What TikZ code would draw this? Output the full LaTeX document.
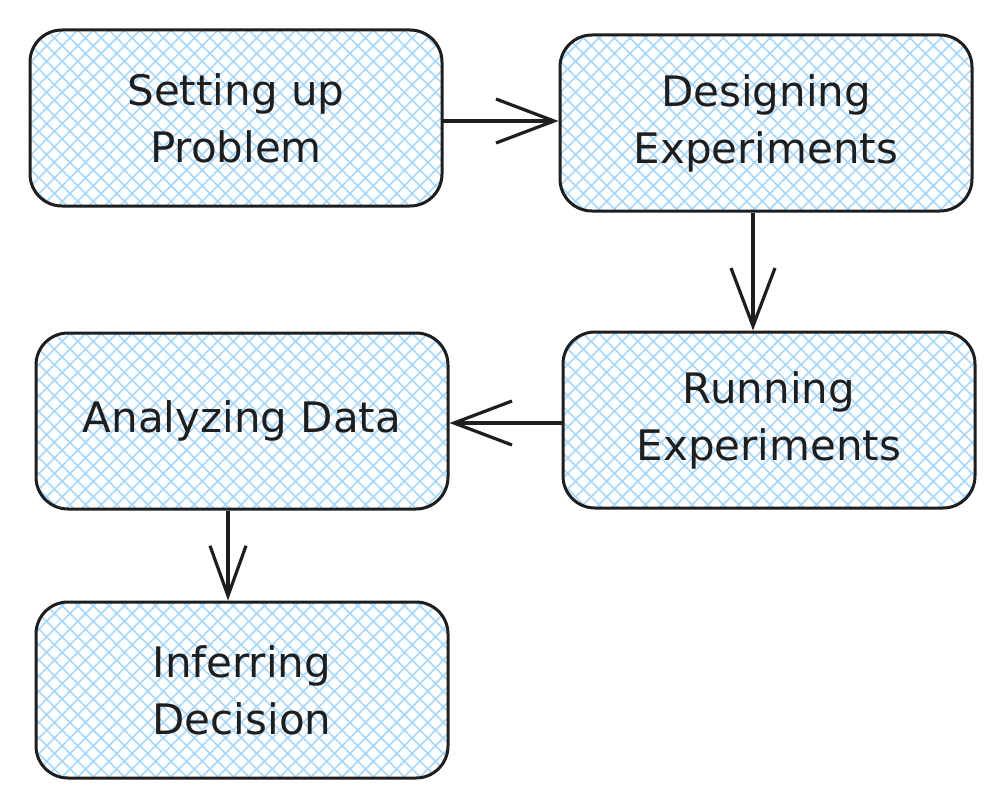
\documentclass[tikz,border=0pt]{standalone}
\usepackage{fontspec}
\setmainfont{DejaVu Sans}
\usetikzlibrary{patterns.meta,arrows.meta}
\definecolor{hatchblue}{HTML}{A5D8FF}
\definecolor{ink}{HTML}{1E1E1E}
\begin{document}
\begin{tikzpicture}[x=1pt,y=-1pt,
  stagebox/.style={draw=ink, line width=3pt, rounded corners=32pt,
    minimum width=412pt, minimum height=176pt, inner sep=0pt,
    align=center, text=ink, font=\fontsize{42}{57}\selectfont,
    pattern={Hatch[angle=45,distance=11pt,line width=1.6pt]},
    pattern color=hatchblue},
  flow/.style={draw=ink, line width=3.2pt,
    -{Straight Barb[length=58pt,width=44pt,line width=3.2pt]}},
  flowsmall/.style={draw=ink, line width=3.2pt,
    -{Straight Barb[length=50pt,width=36pt,line width=3.2pt]}}]
\useasboundingbox[fill=white] (0,0) rectangle (1005,808);
\node[stagebox] (b1) at (236,118) {Setting up\\Problem};
\node[stagebox] (b2) at (766,123) {Designing\\Experiments};
\node[stagebox] (b3) at (769,420) {Running\\Experiments};
\node[stagebox] (b4) at (242,421) {Analyzing Data};
\node[stagebox] (b5) at (242,690) {Inferring\\Decision};
\draw[flow] ([yshift=-3pt]b1.east) -- ([yshift=-3pt]b1.east -| b2.west);
\draw[flow] ([xshift=-13pt]b2.south) -- ([xshift=-13pt]b2.south |- b3.north);
\draw[flow] ([yshift=-3pt]b3.west) -- ([yshift=-3pt]b3.west -| b4.east);
\draw[flowsmall] ([xshift=-14pt]b4.south) -- ([xshift=-14pt]b4.south |- b5.north);
\end{tikzpicture}
\end{document}
